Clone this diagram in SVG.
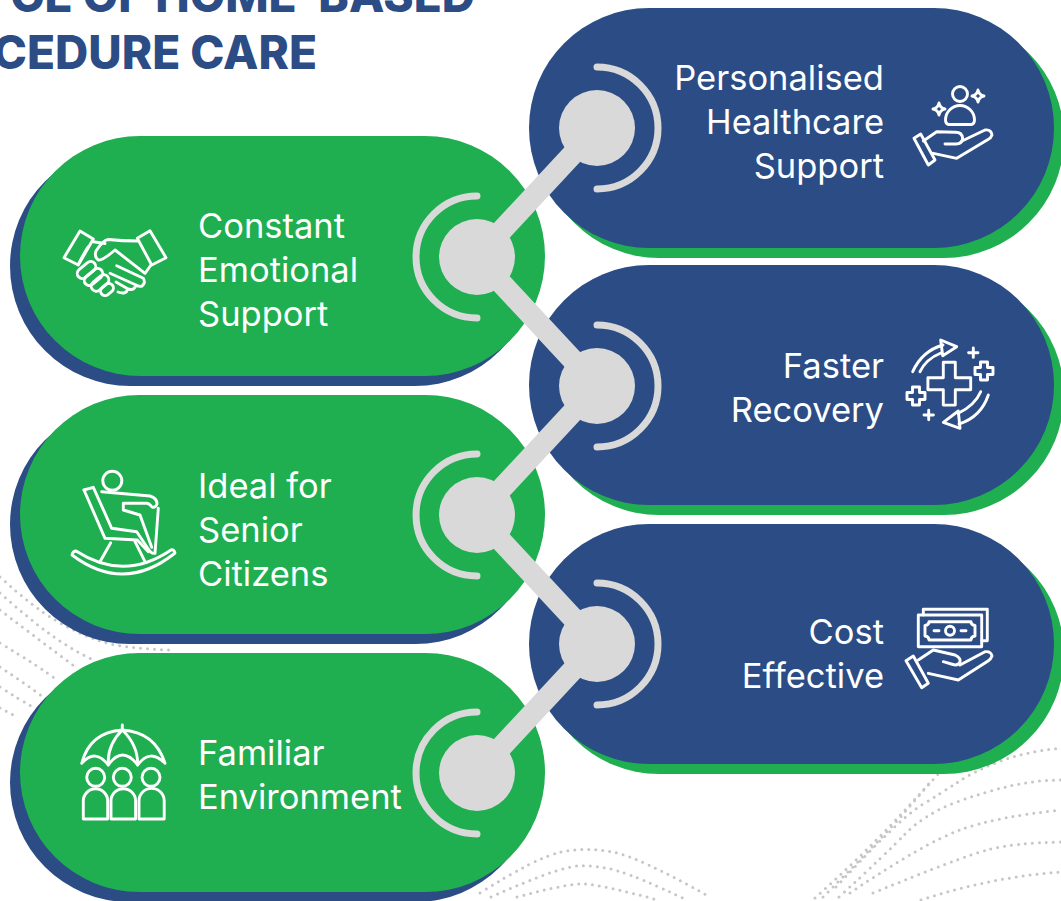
<svg xmlns="http://www.w3.org/2000/svg" width="1061" height="901" viewBox="0 0 1061 901">
<style>
.dot{fill:none;stroke:#c6c6c6;stroke-width:3;stroke-linecap:round;stroke-dasharray:0 7}
.gp{fill:#1fae50}.bp{fill:#2b4c84}
.lbl{font-family:"Inter","Liberation Sans",sans-serif;font-weight:400;font-size:34.500px;fill:#fff}
.end{text-anchor:end}
.title{font-family:"Inter","Liberation Sans",sans-serif;font-weight:800;font-size:46px;fill:#2b4c84;text-anchor:end}
.ic{fill:none;stroke:#fff;stroke-width:2.900;stroke-linecap:round;stroke-linejoin:round}
.lnk{stroke:#d9d9d9;stroke-width:21.500;fill:none}
.arc{stroke:#d9d9d9;stroke-width:7;stroke-linecap:round;fill:none}
.hub{fill:#d9d9d9}
</style>
<g id="dots">
<path class="dot" d="M0 577Q33 607 55 620Q77 633 97 640Q117 648 170 650"/>
<path class="dot" d="M0 593Q27 617 47 632Q67 647 93 660"/>
<path class="dot" d="M0 610Q43 643 77 668"/>
<path class="dot" d="M0 643Q40 667 57 680"/>
<path class="dot" d="M0 667Q27 685 43 697"/>
<path class="dot" d="M0 687Q20 700 33 707"/>
<path class="dot" d="M0 708L17 717"/>
<path class="dot" d="M480 893Q535 858 561 852Q587 847 613 852Q639 857 710 897"/>
<path class="dot" d="M491 897Q558 867 578 866Q598 865 618 871Q639 877 687 900"/>
<path class="dot" d="M517 897Q569 883 585 884Q602 885 658 900"/>
<path class="dot" d="M815 898Q880 840 932 780"/>
<path class="dot" d="M823 897Q887 833 904 813Q921 793 939 773"/>
<path class="dot" d="M836 887Q898 820 920 806Q943 792 958 782Q973 772 998 762Q1024 752 1061 748"/>
<path class="dot" d="M839 897Q887 853 905 834Q924 815 954 803Q984 792 1010 786Q1036 780 1061 780"/>
<path class="dot" d="M850 893Q924 843 960 830Q995 817 1061 810"/>
<path class="dot" d="M873 893Q961 857 987 850Q1013 843 1061 842"/>
<path class="dot" d="M921 900Q991 877 1061 872"/>
</g>
<g id="title">
<text class="title" x="475" y="12">CE OF HOME-BASED</text>
<text class="title" x="317" y="69">CEDURE CARE</text>
</g>
<g id="node-personalised">
<rect class="gp" x="539" y="18" width="525" height="240" rx="120"/>
<rect class="bp" x="529" y="8" width="525" height="240" rx="120"/>
<text class="lbl end" x="884" y="90">Personalised</text>
<text class="lbl end" x="884" y="134">Healthcare</text>
<text class="lbl end" x="884" y="178">Support</text>
<g class="ic">
<circle cx="960" cy="94" r="7.500"/>
<path d="M945.500 120a14.500 14.500 0 0 1 29 0q0 4-3 4.500h-23q-3-.5-3-4.500z"/>
<path d="M939 103q1 5 6 6q-5 1-6 6q-1-5-6-6q5-1 6-6z"/>
<path d="M978 90q1 5 6 6q-5 1-6 6q-1-5-6-6q5-1 6-6z"/>
<path d="M914 138.300L920.700 134L935 160L928.300 165z"/>
<path d="M923.300 141L936.700 131.700L955 132.300Q962 132 962.700 138.300Q962 144 956 144H945"/>
<path d="M962 141L985 130Q991 129 992 135Q991 138 988 139.500L956.700 158.300L933.300 153.300"/>
</g>
</g>
<g id="node-faster">
<rect class="gp" x="539" y="275" width="525" height="240" rx="120"/>
<rect class="bp" x="529" y="265" width="525" height="240" rx="120"/>
<text class="lbl end" x="884" y="378">Faster</text>
<text class="lbl end" x="884" y="422">Recovery</text>
<g class="ic">
<path d="M943.300 362.300h12v15.400h15.400v12h-15.400v15.400h-12v-15.400h-15.400v-12h15.400z"/>
<path d="M912.700 371.700Q922 351 943 345M920 371.700Q926 359 941 353"/>
<path d="M940.700 340L956.700 346.700L942.700 355.700z"/>
<path d="M988.300 395Q981 417 959 424M980.700 391.700Q975 405 958.300 413.300"/>
<path d="M958.300 411L943.300 422.300L960 428.300z"/>
<path d="M973.300 348v9.400M968.600 352.700h9.400M928.700 410.300v9.400M924 415h9.400"/>
<path d="M980.500 362h7v5.500h5.500v7h-5.500v5.500h-7v-5.500h-5.500v-7h5.500z"/>
<path d="M912.500 387h7v5.500h5.500v7h-5.500v5.500h-7v-5.500h-5.500v-7h5.500z"/>
</g>
</g>
<g id="node-cost">
<rect class="gp" x="539" y="534" width="525" height="240" rx="120"/>
<rect class="bp" x="529" y="524" width="525" height="240" rx="120"/>
<text class="lbl end" x="884" y="644">Cost</text>
<text class="lbl end" x="884" y="688">Effective</text>
<g class="ic">
<path d="M923.300 615V609.300H987.300V640.700H981.700"/>
<rect x="918.300" y="615" width="63.400" height="31.700"/>
<path d="M929 621.700H971Q971 625 975 625.500V636Q971 636.500 971 640H929Q929 636.500 925 636V625.500Q929 625 929 621.700z"/>
<circle cx="950" cy="630.700" r="4.500"/>
<path d="M934 630.700h5M961 630.700h5"/>
<path d="M906 660.700L913.300 656L928.300 683.300L921.700 687.700z"/>
<path d="M918.300 660L933.300 650L955 655Q961 658 960 662Q958 666 953 664.500L943.300 661.700"/>
<path d="M960 665L985 651.700Q991 651 992 656Q991 659 988 661L958.300 680L928.300 673.300"/>
</g>
</g>
<g id="node-constant">
<rect class="bp" x="10" y="146" width="525" height="240" rx="120"/>
<rect class="gp" x="20" y="136" width="525" height="240" rx="120"/>
<text class="lbl" x="198" y="238">Constant</text>
<text class="lbl" x="198" y="282">Emotional</text>
<text class="lbl" x="198" y="326">Support</text>
<g class="ic">
<path d="M64 257.700L80 231L93.300 239L78.300 265z"/>
<path d="M137.300 238.300L150 230.700L166 257.700L151.700 265z"/>
<path d="M93.300 241.700L105 243.500M137.300 241Q122 241 108.300 239.500Q103 240 96 251Q94 257 98.300 260Q102 261 115 250L145 273.300L151 265"/>
<path d="M88 247Q83 255 79 263"/>
<path d="M116.700 265.700L143.300 278.300Q146 283 142 286Q139 287 136 285L110 273.300M136 285Q134 291 128 289L116 282M128 289Q126 295 118 292"/>
<rect x="76" y="265" width="21" height="10" rx="5" transform="rotate(-40 86.500 270)"/>
<rect x="83" y="272" width="21" height="10" rx="5" transform="rotate(-40 93.500 277)"/>
<rect x="90" y="278" width="20" height="10" rx="5" transform="rotate(-40 100 283)"/>
<rect x="100" y="285" width="14" height="9" rx="4.500" transform="rotate(-40 107 289.500)"/>
</g>
</g>
<g id="node-ideal">
<rect class="bp" x="10" y="405" width="525" height="239" rx="119.500"/>
<rect class="gp" x="20" y="395" width="525" height="239" rx="119.500"/>
<text class="lbl" x="198" y="498">Ideal for</text>
<text class="lbl" x="198" y="542">Senior</text>
<text class="lbl" x="198" y="586">Citizens</text>
<g class="ic">
<circle cx="112.300" cy="480.700" r="9.500"/>
<path d="M84 490L93.300 487.300L111.700 528.300L136.700 531.700L148.300 549Q151 554 155 553.300L158.300 508.300"/>
<path d="M84 490L105 538.300L137.300 540L148.300 551.700"/>
<path d="M101.700 491.700L150 496Q157 498 157 504Q156 508 152 507Q149 503 146 503.300H123.300V510L140 515L151.700 547.300"/>
<path d="M110.700 542.700L100 561.700M135 541.700L145 561.700"/>
<path d="M72 555Q124 594 175 553Q174 549 171 550Q124 582 76 551Q73 551 72 555z"/>
</g>
</g>
<g id="node-familiar">
<rect class="bp" x="10" y="663" width="525" height="239" rx="119.500"/>
<rect class="gp" x="20" y="653" width="525" height="239" rx="119.500"/>
<text class="lbl" x="198" y="765">Familiar</text>
<text class="lbl" x="198" y="809">Environment</text>
<g class="ic">
<path d="M122.300 725V730"/>
<path d="M81.700 763.300Q90 732 122.300 730Q155 732 165 763.300Q150 748 137.700 765Q122.300 745 108.300 765Q95 748 81.700 763.300z"/>
<path d="M108.300 765Q107 745 122.300 730Q138 745 137.700 765"/>
<circle cx="95.700" cy="777.300" r="9"/><circle cx="122.300" cy="777.300" r="9"/><circle cx="151" cy="777.300" r="9"/>
<path d="M83.300 819V801a12.200 12.200 0 0 1 24.400 0V819z"/>
<path d="M111 819V801a12.300 12.300 0 0 1 24.600 0V819z"/>
<path d="M139 819V801a12.600 12.600 0 0 1 25.200 0V819z"/>
</g>
</g>
<g id="connectors">
<path class="lnk" d="M597 128L477 257L597 386L477 515L597 644L477 773"/>
</g>
<g id="hubs">
<path class="arc" d="M597 67A61 61 0 0 1 597 189"/>
<path class="arc" d="M597 325A61 61 0 0 1 597 447"/>
<path class="arc" d="M597 583A61 61 0 0 1 597 705"/>
<path class="arc" d="M477 196A61 61 0 0 0 477 318"/>
<path class="arc" d="M477 454A61 61 0 0 0 477 576"/>
<path class="arc" d="M477 712A61 61 0 0 0 477 834"/>
<circle class="hub" cx="597" cy="128" r="38"/>
<circle class="hub" cx="597" cy="386" r="38"/>
<circle class="hub" cx="597" cy="644" r="38"/>
<circle class="hub" cx="477" cy="257" r="38"/>
<circle class="hub" cx="477" cy="515" r="38"/>
<circle class="hub" cx="477" cy="773" r="38"/>
</g>
</svg>
